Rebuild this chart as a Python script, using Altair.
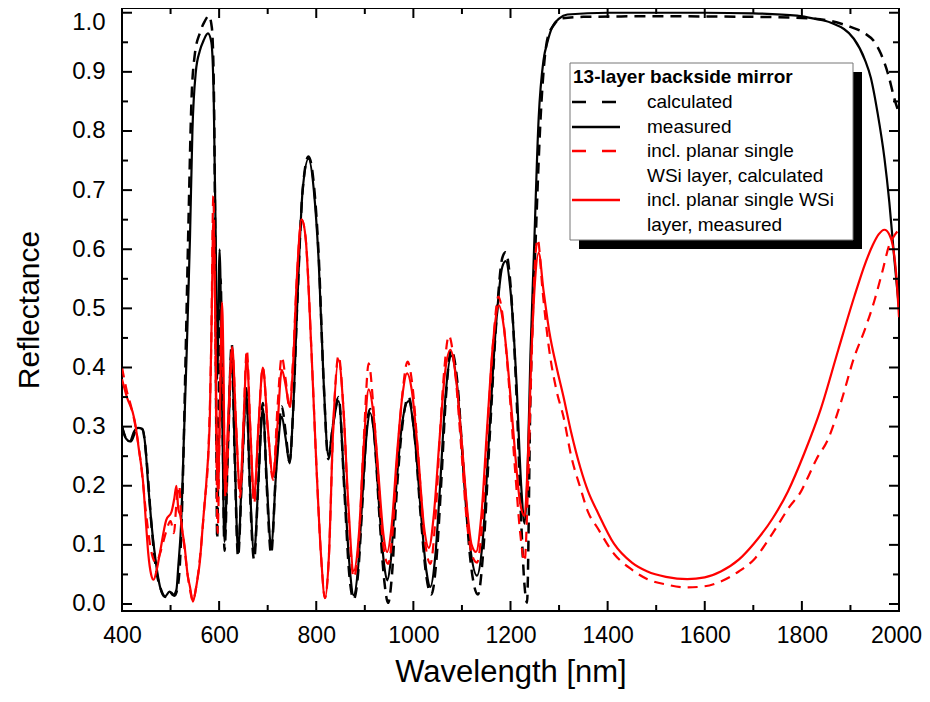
import altair as alt
import pandas as pd

# ---------------- data ----------------
# 13-layer backside mirror, measured (black solid)
bm_wl = [400, 408, 416, 425, 433, 442, 448, 454, 460, 466, 471, 478, 488, 498, 505, 512, 516, 522, 527, 533,
         540, 545, 552, 560, 568, 577, 584, 589, 593, 596, 601, 606, 611, 618, 626, 632, 639, 647, 656, 663,
         672, 681, 690, 698, 707, 718, 729, 737, 745, 752, 761, 772, 784, 795, 805, 815, 825, 834, 846, 858,
         868, 877, 886, 895, 904, 911, 920, 930, 940, 946, 953, 963, 976, 990, 1003, 1015, 1027, 1035, 1045, 1055,
         1066, 1078, 1090, 1103, 1118, 1131, 1142, 1155, 1170, 1183, 1190, 1200, 1212, 1222, 1229, 1235, 1241, 1248, 1258, 1268,
         1276, 1286, 1300, 1317, 1400, 1500, 1600, 1700, 1790, 1825, 1860, 1907, 1930, 1942, 1956, 1970, 1980, 1990, 2000]
bm_r = [0.30, 0.28, 0.275, 0.292, 0.298, 0.296, 0.268, 0.20, 0.142, 0.095, 0.063, 0.030, 0.012, 0.021, 0.015, 0.024, 0.065, 0.14, 0.27, 0.42,
        0.62, 0.80, 0.90, 0.935, 0.953, 0.965, 0.950, 0.85, 0.62, 0.38, 0.60, 0.35, 0.105, 0.27, 0.43, 0.26, 0.09, 0.22, 0.357, 0.21,
        0.086, 0.21, 0.331, 0.21, 0.097, 0.23, 0.317, 0.28, 0.238, 0.32, 0.51, 0.70, 0.753, 0.70, 0.58, 0.38, 0.25, 0.30, 0.343, 0.20,
        0.07, 0.015, 0.06, 0.18, 0.29, 0.323, 0.28, 0.16, 0.065, 0.040, 0.07, 0.18, 0.30, 0.343, 0.28, 0.16, 0.055, 0.029, 0.08, 0.20,
        0.35, 0.42, 0.37, 0.23, 0.09, 0.048, 0.10, 0.27, 0.47, 0.57, 0.58, 0.53, 0.38, 0.20, 0.136, 0.22, 0.42, 0.587, 0.822, 0.92,
        0.950, 0.976, 0.990, 0.997, 1.000, 1.000, 1.000, 0.999, 0.995, 0.990, 0.983, 0.956, 0.920, 0.890, 0.830, 0.754, 0.680, 0.587, 0.500]

# 13-layer backside mirror, calculated (black dashed)
bc_wl = [400, 410, 418, 430, 442, 450, 460, 470, 480, 490, 500, 508, 515, 520, 525, 531, 537, 543, 550, 560,
         570, 579, 585, 589, 592, 594, 596, 599, 603, 607, 611, 618, 626, 632, 639, 647, 656, 663, 672, 681,
         690, 698, 707, 718, 729, 737, 745, 752, 761, 772, 784, 795, 805, 815, 825, 834, 846, 858, 868, 877,
         886, 895, 904, 911, 920, 930, 940, 948, 956, 965, 977, 990, 1003, 1015, 1027, 1037, 1047, 1057, 1067, 1078,
         1090, 1103, 1118, 1133, 1144, 1157, 1171, 1183, 1190, 1200, 1212, 1222, 1229, 1234, 1241, 1252, 1262, 1276, 1290, 1303,
         1350, 1500, 1700, 1800, 1860, 1900, 1928, 1950, 1963, 1978, 1990, 2000]
bc_r = [0.30, 0.278, 0.275, 0.295, 0.296, 0.25, 0.14, 0.06, 0.025, 0.012, 0.02, 0.014, 0.03, 0.08, 0.20, 0.42, 0.65, 0.85, 0.93, 0.965,
        0.985, 0.995, 0.975, 0.88, 0.60, 0.30, 0.11, 0.30, 0.55, 0.33, 0.09, 0.26, 0.44, 0.25, 0.08, 0.22, 0.365, 0.20, 0.075, 0.21,
        0.34, 0.20, 0.085, 0.24, 0.334, 0.29, 0.24, 0.32, 0.51, 0.70, 0.757, 0.71, 0.59, 0.38, 0.245, 0.30, 0.35, 0.19, 0.05, 0.008,
        0.05, 0.17, 0.30, 0.33, 0.28, 0.15, 0.04, 0.002, 0.05, 0.18, 0.30, 0.35, 0.28, 0.15, 0.045, 0.016, 0.07, 0.20, 0.35, 0.43,
        0.38, 0.23, 0.07, 0.016, 0.09, 0.28, 0.48, 0.585, 0.595, 0.54, 0.36, 0.14, 0.03, 0.002, 0.35, 0.62, 0.822, 0.956, 0.980, 0.990,
        0.993, 0.994, 0.993, 0.991, 0.986, 0.976, 0.966, 0.950, 0.930, 0.895, 0.856, 0.830]

# incl. planar single WSi layer, measured (red solid)
rm_wl = [400, 410, 426, 435, 443, 450, 454, 460, 465, 472, 478, 491, 502, 508, 512, 516, 520, 525, 529, 535,
         540, 546, 553, 560, 567, 574, 581, 585, 588, 591, 594, 597, 601, 606, 609, 612, 618, 627, 635, 643,
         650, 657, 664, 672, 681, 690, 700, 711, 720, 729, 737, 745, 752, 760, 770, 778, 790, 800, 810, 818,
         826, 835, 846, 856, 866, 877, 888, 898, 908, 918, 928, 938, 946, 955, 966, 977, 987, 997, 1010, 1022,
         1032, 1042, 1054, 1065, 1076, 1088, 1100, 1112, 1120, 1129, 1140, 1152, 1165, 1176, 1186, 1197, 1210, 1220, 1229, 1236,
         1243, 1250, 1258, 1268, 1280, 1295, 1309, 1325, 1344, 1360, 1379, 1413, 1450, 1482, 1520, 1564, 1600, 1633, 1670, 1701,
         1740, 1771, 1805, 1839, 1875, 1908, 1930, 1946, 1958, 1970, 1980, 1987, 1994, 2000]
rm_r = [0.38, 0.35, 0.311, 0.26, 0.21, 0.13, 0.086, 0.05, 0.041, 0.06, 0.086, 0.142, 0.156, 0.18, 0.20, 0.16, 0.15, 0.12, 0.097, 0.05,
        0.029, 0.004, 0.03, 0.069, 0.14, 0.21, 0.32, 0.50, 0.65, 0.55, 0.35, 0.19, 0.30, 0.51, 0.40, 0.193, 0.30, 0.435, 0.30, 0.19,
        0.30, 0.418, 0.30, 0.18, 0.30, 0.40, 0.30, 0.215, 0.30, 0.396, 0.37, 0.334, 0.40, 0.55, 0.65, 0.62, 0.43, 0.24, 0.08, 0.01,
        0.08, 0.30, 0.413, 0.33, 0.17, 0.056, 0.12, 0.27, 0.363, 0.32, 0.22, 0.12, 0.088, 0.13, 0.25, 0.35, 0.39, 0.36, 0.25, 0.13,
        0.095, 0.15, 0.28, 0.39, 0.43, 0.38, 0.27, 0.15, 0.10, 0.088, 0.15, 0.30, 0.45, 0.505, 0.47, 0.38, 0.25, 0.17, 0.149, 0.25,
        0.42, 0.54, 0.594, 0.53, 0.46, 0.40, 0.351, 0.29, 0.23, 0.19, 0.156, 0.102, 0.07, 0.055, 0.046, 0.042, 0.045, 0.055, 0.075, 0.102,
        0.145, 0.19, 0.255, 0.33, 0.43, 0.52, 0.575, 0.607, 0.625, 0.633, 0.625, 0.607, 0.56, 0.485]

# incl. planar single WSi layer, calculated (red dashed)
rc_wl = [400, 410, 420, 430, 440, 450, 460, 470, 480, 490, 500, 507, 512, 518, 522, 528, 535, 541, 546, 553,
         562, 570, 578, 584, 588, 591, 594, 597, 601, 605, 609, 613, 620, 627, 635, 643, 650, 657, 664, 672,
         681, 690, 700, 711, 720, 729, 737, 745, 752, 760, 770, 778, 790, 800, 810, 818, 826, 835, 846, 856,
         866, 877, 888, 898, 908, 918, 928, 938, 948, 957, 967, 978, 988, 998, 1010, 1022, 1035, 1045, 1055, 1064,
         1073, 1085, 1098, 1110, 1122, 1131, 1142, 1153, 1165, 1175, 1185, 1196, 1210, 1220, 1229, 1236, 1244, 1250, 1256, 1266,
         1278, 1295, 1309, 1325, 1344, 1360, 1379, 1413, 1450, 1482, 1520, 1564, 1600, 1633, 1670, 1701, 1740, 1775, 1798, 1810,
         1830, 1853, 1880, 1908, 1930, 1949, 1965, 1980, 1992, 2000]
rc_r = [0.40, 0.36, 0.33, 0.29, 0.23, 0.15, 0.09, 0.07, 0.09, 0.12, 0.14, 0.12, 0.17, 0.20, 0.14, 0.10, 0.05, 0.02, 0.005, 0.03,
        0.09, 0.17, 0.26, 0.45, 0.69, 0.55, 0.30, 0.12, 0.30, 0.47, 0.35, 0.18, 0.30, 0.43, 0.30, 0.18, 0.30, 0.43, 0.30, 0.17,
        0.30, 0.40, 0.30, 0.21, 0.33, 0.418, 0.38, 0.33, 0.41, 0.55, 0.65, 0.62, 0.43, 0.24, 0.08, 0.01, 0.08, 0.30, 0.42, 0.33,
        0.16, 0.045, 0.11, 0.28, 0.407, 0.33, 0.21, 0.10, 0.068, 0.12, 0.25, 0.36, 0.41, 0.37, 0.25, 0.12, 0.068, 0.14, 0.29, 0.40,
        0.454, 0.40, 0.27, 0.14, 0.08, 0.07, 0.14, 0.30, 0.45, 0.52, 0.48, 0.38, 0.22, 0.12, 0.072, 0.20, 0.43, 0.57, 0.617, 0.53,
        0.44, 0.36, 0.317, 0.25, 0.196, 0.155, 0.129, 0.085, 0.058, 0.042, 0.033, 0.028, 0.030, 0.038, 0.055, 0.075, 0.12, 0.165, 0.19, 0.21,
        0.245, 0.277, 0.34, 0.418, 0.465, 0.512, 0.56, 0.607, 0.625, 0.633]

x_major = [400, 600, 800, 1000, 1200, 1400, 1600, 1800, 2000]
x_minor = [500, 700, 900, 1100, 1300, 1500, 1700, 1900]
y_major = [0.0, 0.1, 0.2, 0.3, 0.4, 0.5, 0.6, 0.7, 0.8, 0.9, 1.0]
y_minor = [0.05, 0.15, 0.25, 0.35, 0.45, 0.55, 0.65, 0.75, 0.85, 0.95]

legend_title = "13-layer backside mirror"
legend_labels = ["calculated", "measured", "incl. planar single", "WSi layer, calculated",
                 "incl. planar single WSi", "layer, measured"]

# ---------------- styling ----------------
W, H = 777, 603
FONT = "Liberation Sans"
xs = alt.Scale(domain=[400, 2000], nice=False, zero=False)
ys = alt.Scale(domain=[-0.01184, 1.008], nice=False, zero=False)
RED = "#ff0000"

XA = alt.Axis(values=x_major, format="d", labelFontSize=23, labelFont=FONT, labelColor="black",
              labelPadding=13, labelFlush=False, labelOverlap=False, labelBound=False,
              labelOffset={"condition": {"test": "datum.value >= 1999", "value": -3}, "value": 0},
              domain=False, ticks=False, grid=False,
              title="Wavelength [nm]", titleFont=FONT, titleFontSize=31, titleFontWeight="normal",
              titleColor="black", titlePadding=10)
YA = alt.Axis(values=y_major, format=".1f", labelFontSize=24, labelFont=FONT, labelColor="black",
              labelPadding=17, labelFlush=False, labelOverlap=False, labelBound=False,
              labelOffset={"condition": {"test": "datum.value >= 0.99", "value": 10}, "value": 0},
              domain=False, ticks=False, grid=False,
              title="Reflectance", titleFont=FONT, titleFontSize=30, titleFontWeight="normal",
              titleColor="black", titlePadding=27)


def X():
    return alt.X("wl:Q", scale=xs, axis=XA)


def Y():
    return alt.Y("R:Q", scale=ys, axis=YA)


def series(wl, r, color, dash=None, width=2.2):
    df = pd.DataFrame({"wl": wl, "R": r})
    kw = dict(color=color, strokeWidth=width, interpolate="monotone", clip=True)
    if dash:
        kw["strokeDash"] = dash
    return alt.Chart(df).mark_line(**kw).encode(x=X(), y=Y())


def xticks(vals, length):
    df = pd.DataFrame({"wl": vals})
    bottom = alt.Chart(df).mark_rule(color="black", strokeWidth=2).encode(
        x=X(), y=alt.value(H), y2=alt.value(H - length))
    top = alt.Chart(df).mark_rule(color="black", strokeWidth=2).encode(
        x=X(), y=alt.value(0), y2=alt.value(length))
    return [bottom, top]


def yticks(vals, length):
    df = pd.DataFrame({"R": vals})
    left = alt.Chart(df).mark_rule(color="black", strokeWidth=2).encode(
        y=Y(), x=alt.value(0), x2=alt.value(length))
    right = alt.Chart(df).mark_rule(color="black", strokeWidth=2).encode(
        y=Y(), x=alt.value(W), x2=alt.value(W - length))
    return [left, right]


one = pd.DataFrame({"a": [0]})

# legend box (pixel positions inside the plot area)
LX0, LY0, LX1, LY1 = 448, 55, 731, 232
SH = 9
shadow = alt.Chart(one).mark_rect(color="black").encode(
    x=alt.value(LX0 + SH), x2=alt.value(LX1 + SH), y=alt.value(LY0 + SH), y2=alt.value(LY1 + SH))
box = alt.Chart(one).mark_rect(fill="white", stroke="#777777", strokeWidth=1).encode(
    x=alt.value(LX0), x2=alt.value(LX1), y=alt.value(LY0), y2=alt.value(LY1))

leg_layers = [shadow, box]
leg_layers.append(
    alt.Chart(pd.DataFrame({"t": [legend_title]})).mark_text(
        align="left", baseline="middle", font=FONT, fontSize=19, fontWeight="bold", color="black"
    ).encode(text="t:N", x=alt.value(451), y=alt.value(69)))
row_y = [94, 119, 143, 168, 192, 217]
for lab, yy in zip(legend_labels, row_y):
    leg_layers.append(
        alt.Chart(pd.DataFrame({"t": [lab]})).mark_text(
            align="left", baseline="middle", font=FONT, fontSize=19, color="black"
        ).encode(text="t:N", x=alt.value(525), y=alt.value(yy)))

sample_style = [("black", [14, 16], row_y[0]), ("black", None, row_y[1]),
                (RED, [14, 16], row_y[2]), (RED, None, row_y[4])]
for col, dash, yy in sample_style:
    kw = dict(color=col, strokeWidth=2.6)
    if dash:
        kw["strokeDash"] = dash
    leg_layers.append(alt.Chart(one).mark_rule(**kw).encode(
        x=alt.value(450), x2=alt.value(498), y=alt.value(yy)))

layers = [
    series(bc_wl, bc_r, "black", dash=[11, 7], width=2.5),
    series(bm_wl, bm_r, "black", width=2.2),
    series(rc_wl, rc_r, RED, dash=[10, 7], width=2.2),
    series(rm_wl, rm_r, RED, width=2.2),
]
layers += xticks(x_major, 10) + xticks(x_minor, 6) + yticks(y_major, 10) + yticks(y_minor, 6)
layers += leg_layers

chart = alt.layer(*layers).properties(
    width=W, height=H,
    autosize=alt.AutoSizeParams(type="none"),
    padding={"left": 114, "top": 0, "right": 23, "bottom": 80},
    background="white",
).configure_view(stroke="black", strokeWidth=2)

chart.save("out.html", embed_options={"renderer": "svg", "actions": False})
